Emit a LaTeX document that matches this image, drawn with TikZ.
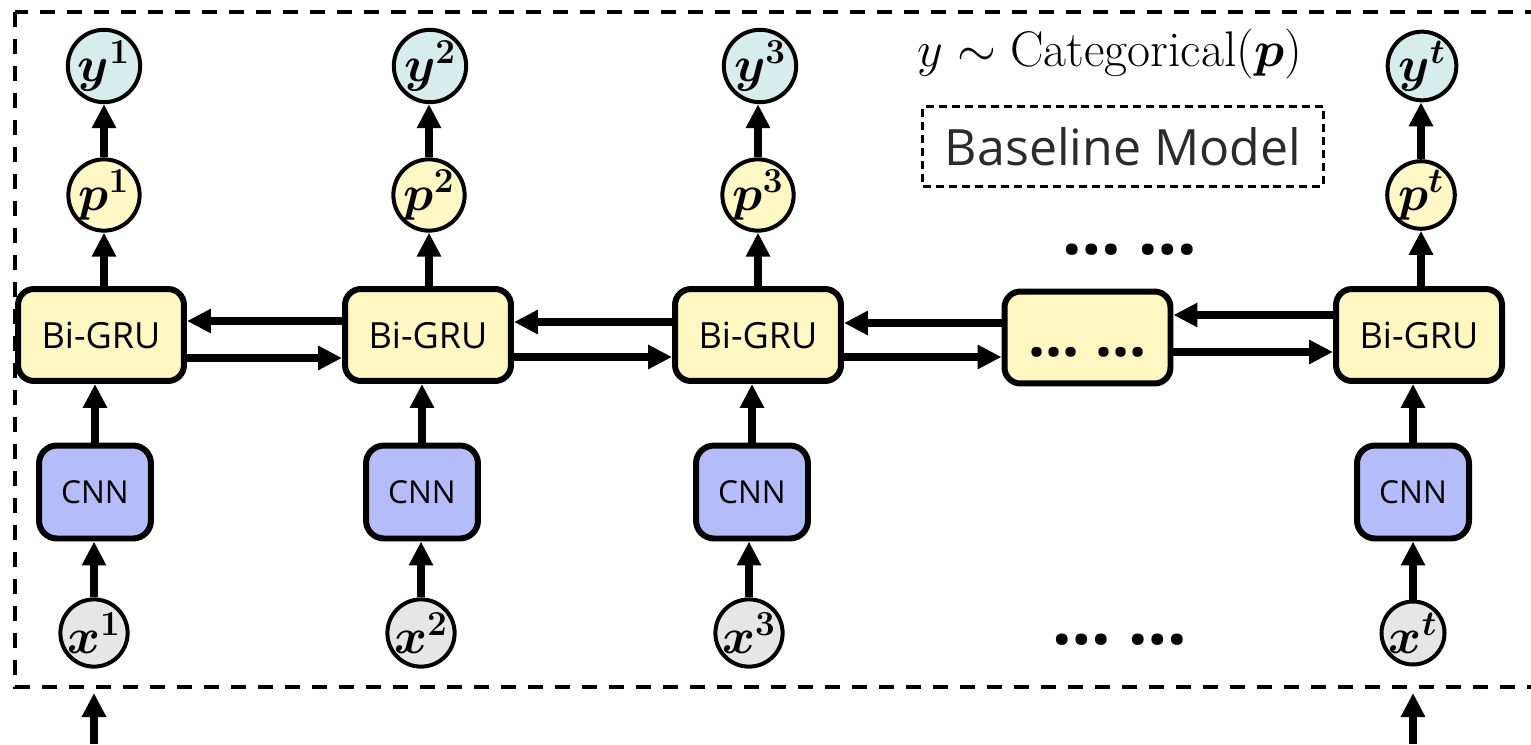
\RequirePackage{fix-cm}
\documentclass[tikz,border=0pt]{standalone}
\usepackage{bm}
\usepackage{fontspec}
\setsansfont{Open Sans}
\usetikzlibrary{arrows.meta}

\definecolor{gruyellow}{HTML}{FFF7C2}
\definecolor{cnnblue}{HTML}{B4BDFA}
\definecolor{outteal}{HTML}{D6EDEB}
\definecolor{probyellow}{HTML}{FFF8C4}
\definecolor{ingray}{HTML}{E6E6E6}
\definecolor{tagtext}{HTML}{2B2B2B}

\tikzset{
  gru/.style={draw,rounded corners=0.32cm,line width=0.12cm,fill=gruyellow,
    minimum width=3.32cm,minimum height=1.84cm,font=\sffamily\fontsize{20.5}{23}\selectfont},
  cnn/.style={draw,rounded corners=0.36cm,line width=0.12cm,fill=cnnblue,
    minimum width=2.24cm,minimum height=1.86cm,font=\sffamily\fontsize{18}{21}\selectfont},
  var/.style={draw,circle,line width=0.08cm,minimum size=1.26cm,inner sep=0pt,
    font=\fontsize{28.5}{31}\selectfont},
  flow/.style={-{Triangle[length=0.48cm,width=0.46cm]},line width=0.15cm},
  frame/.style={line width=0.075cm,dash pattern=on 0.3cm off 0.24cm},
  tagbox/.style={draw,line width=0.06cm,dash pattern=on 0.16cm off 0.1cm,
    minimum width=8.02cm,minimum height=1.6cm,text=tagtext,
    font=\sffamily\fontsize{28.5}{32}\selectfont},
  etc/.style={font=\sffamily\bfseries\fontsize{39}{42}\selectfont}
}

\begin{document}
\begin{tikzpicture}[x=0.02cm,y=-0.02cm]
\useasboundingbox (0,0) rectangle (1531,744);

% outer frame, open to the right
\draw[frame] (15,12) rectangle (1560,687);
\coordinate (frbot) at (0,687);
\coordinate (pgbot) at (0,744);

% one column per time step
\foreach \n/\xy/\xp/\xg/\xc/\xx in {1/104/104/101/95/94,2/430/429/428/422/421,
    3/760/758/758/752/749,t/1422/1421/1419/1413/1413}{
  \node[var,fill=outteal] (y\n) at (\xy,66) {$\bm{y^{\n}}$};
  \node[var,fill=probyellow] (p\n) at (\xp,195) {$\bm{p^{\n}}$};
  \node[gru] (gru\n) at (\xg,335) {Bi-GRU};
  \node[cnn] (cnn\n) at (\xc,492) {CNN};
  \node[var,fill=ingray] (x\n) at (\xx,633) {$\bm{x^{\n}}$};
  \draw[flow] (x\n) -- (x\n |- cnn\n.south);
  \draw[flow] (cnn\n) -- (cnn\n |- gru\n.south);
  \draw[flow] (p\n |- gru\n.north) -- (p\n);
  \draw[flow] (p\n) -- (p\n |- y\n.south);
}
\node[gru,etc,font=\sffamily\bfseries\fontsize{34}{36}\selectfont,
  text height=0.75cm,text depth=0pt] (gruetc) at (1087.5,337.5) {…\ …};

% forward and backward links
\foreach \a/\b/\u/\l in {gru1/gru2/0.28/-0.46,gru2/gru3/0.26/-0.44,
    gru3/gruetc/0.24/-0.44,gruetc/grut/0.45/-0.29}{
  \draw[flow] ([yshift=\u cm]\a.east -| \b.west) -- ([yshift=\u cm]\a.east);
  \draw[flow] ([yshift=\l cm]\a.east) -- ([yshift=\l cm]\a.east -| \b.west);
}

% inputs entering from below
\foreach \n in {1,t}
  \draw[flow,shorten >=0.12cm] (x\n |- pgbot) -- (x\n |- frbot);

\node[etc,anchor=base] (etctop) at (1130,254) {…\ …};
\node[etc,anchor=base] (etcbot) at (1120,644) {…\ …};

\node[anchor=base,font=\fontsize{28.5}{32}\selectfont] (dist) at (1110,66)
  {$y\sim\mathrm{Categorical}(\bm{p})$};
\node[tagbox] (tag) at (1123,146.5) {Baseline Model};
\end{tikzpicture}
\end{document}
